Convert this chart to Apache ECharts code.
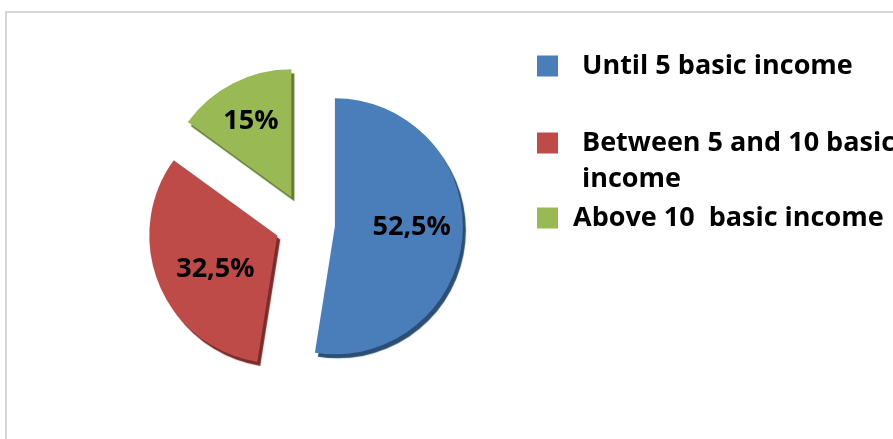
<!DOCTYPE html>
<html><head><meta charset="utf-8">
<script src="https://cdn.jsdelivr.net/npm/echarts@6/dist/echarts.min.js"></script>
<style>html,body{margin:0;padding:0;background:#fff}#c{width:893px;height:439px}</style>
</head><body><div id="c"></div>
<script>
const categories = ['Until 5 basic income', 'Between 5 and 10 basic\nincome', 'Above 10  basic income'];
const values = [52.5, 32.5, 15];
const colors = ['#4a7ebb', '#be4b48', '#98b954'];
const sideColors = ['#2c4d74', '#7a2c2a', '#5f7a2e'];
const labelShift = [[10, -4], [0, 8], [-10, -16]];

const chart = echarts.init(document.getElementById('c'), null, {renderer: 'canvas'});
const font = '"Open Sans", Lato, sans-serif';
function legendFor(i, top, padLeft, topBlank) {
  const textBase = {fontFamily: font, fontWeight: 'bold', fontSize: 27, color: '#000', lineHeight: 36};
  return {
    orient: 'vertical', left: 537, top: top, padding: 0,
    itemWidth: 21, itemHeight: 21, icon: 'rect',
    data: [categories[i]],
    selectedMode: false,
    formatter: name => (topBlank ? '{b| }\n' : '') + name.split('\n').map(s => '{a|' + s + '}').join('\n'),
    textStyle: {
      ...textBase,
      rich: {
        a: {...textBase, padding: [0, 0, 0, padLeft]},
        b: {fontSize: 10, lineHeight: 36, height: 36}
      }
    }
  };
}
chart.setOption({
  animation: false,
  color: colors,
  graphic: [{type: 'rect', shape: {x: 6, y: 12, width: 1000, height: 1000},
    style: {fill: 'none', stroke: '#d6d6d6', lineWidth: 2}, silent: true}],
  legend: [legendFor(0, 48, 19, false), legendFor(1, 89, 19, true), legendFor(2, 200, 10, false)],
  series: [{
    type: 'pie',
    center: [305, 224],
    radius: [0, 128],
    startAngle: 90,
    clockwise: true,
    selectedMode: 'multiple',
    selectedOffset: 30,
    avoidLabelOverlap: false,
    label: {show: true, position: 'inside', fontFamily: font, fontWeight: 'bold', fontSize: 27, color: '#000',
      formatter: p => String(p.value).replace('.', ',') + '%'},
    labelLayout: p => ({dx: labelShift[p.dataIndex][0], dy: labelShift[p.dataIndex][1]}),
    labelLine: {show: false},
    emphasis: {disabled: true},
    data: values.map((v, i) => ({
      name: categories[i], value: v, selected: true,
      itemStyle: {color: colors[i], shadowColor: sideColors[i], shadowBlur: 1, shadowOffsetX: 3, shadowOffsetY: 4},
      select: {itemStyle: {color: colors[i], shadowColor: sideColors[i], shadowBlur: 1, shadowOffsetX: 3, shadowOffsetY: 4}}
    }))
  }]
});
</script></body></html>
